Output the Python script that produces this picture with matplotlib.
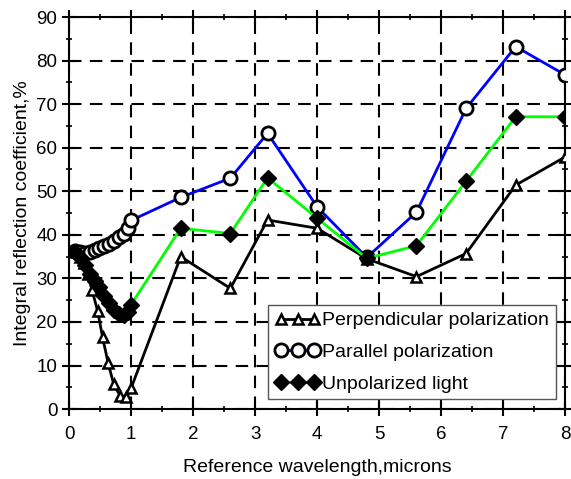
import matplotlib.pyplot as plt
from matplotlib.ticker import MultipleLocator

plt.rcParams['font.family'] = ['Liberation Sans', 'DejaVu Sans']

# perpendicular polarization
x_perp = [0.1, 0.17, 0.24, 0.3, 0.37, 0.46, 0.54, 0.63, 0.72, 0.82, 0.92, 1.0,
          1.8, 2.6, 3.2, 4.0, 4.8, 5.6, 6.4, 7.2, 8.0]
y_perp = [36, 35, 33.5, 31, 27.3, 22.5, 16.5, 10.5, 5.7, 3.1, 2.7, 4.8,
          35.0, 27.7, 43.4, 41.5, 34.5, 30.4, 35.7, 51.4, 57.9]

# parallel polarization
x_par = [0.1, 0.17, 0.25, 0.33, 0.41, 0.49, 0.57, 0.65, 0.73, 0.81, 0.88, 0.95, 1.0,
         1.8, 2.6, 3.2, 4.0, 4.8, 5.6, 6.4, 7.2, 8.0]
y_par = [36.2, 36.0, 35.9, 36.1, 36.5, 36.9, 37.4, 38.0, 38.6, 39.4, 40.3, 41.5, 43.3,
         48.6, 53.0, 63.3, 46.4, 34.8, 45.2, 69.0, 83.2, 76.7]

# unpolarized light
x_unp = [0.1, 0.17, 0.25, 0.33, 0.41, 0.49, 0.57, 0.65, 0.73, 0.81, 0.88, 0.95, 1.0,
         1.8, 2.6, 3.2, 4.0, 4.8, 5.6, 6.4, 7.2, 8.0]
y_unp = [36, 35, 33, 31, 29.5, 28, 26, 24.3, 22.7, 21.8, 21.5, 22.3, 24,
         41.5, 40.3, 53.1, 43.8, 34.6, 37.5, 52.3, 67.1, 67.1]

fig = plt.figure(figsize=(5.71, 4.79), dpi=100)
ax = fig.add_axes([0.121, 0.146, 0.869, 0.8185])

ax.plot(x_perp, y_perp, color='black', lw=2, marker='^', ms=7, mfc='white',
        mec='black', mew=1.8, label='Perpendicular polarization', zorder=3)
ax.plot(x_par, y_par, color='#0000ff', lw=2, marker='o', ms=9.5, mfc='white',
        mec='black', mew=2, label='Parallel polarization', zorder=4)
ax.plot(x_unp, y_unp, color='#00ff00', lw=2, marker='D', ms=8, mfc='black',
        mec='black', label='Unpolarized light', zorder=5)

ax.set_xlim(0, 8)
ax.set_ylim(0, 90)
ax.xaxis.set_major_locator(MultipleLocator(1))
ax.xaxis.set_minor_locator(MultipleLocator(0.5))
ax.yaxis.set_major_locator(MultipleLocator(10))
ax.yaxis.set_minor_locator(MultipleLocator(5))
ax.tick_params(which='major', direction='inout', length=10, width=1.5, labelsize=13.5,
               top=True, right=True)
ax.tick_params(axis='x', which='major', pad=7)
ax.tick_params(which='minor', direction='inout', length=5, width=1.2, top=True, right=True)
ax.grid(True, which='major', color='black', ls=(0, (6, 4)), lw=1.5)
ax.set_axisbelow(True)
for s in ax.spines.values():
    s.set_linewidth(1.5)

ax.set_xlabel('Reference wavelength,microns', fontsize=14, labelpad=12)
ax.set_ylabel('Integral reflection coefficient,%', fontsize=14, labelpad=4)

leg = ax.legend(loc='lower right', numpoints=3, fontsize=14, fancybox=False,
                framealpha=1, edgecolor='#555555', handlelength=2.3,
                handletextpad=0.1, borderaxespad=0.5, borderpad=0.35,
                labelspacing=0.72)
leg.get_frame().set_linewidth(1.0)

fig.savefig('out.png', dpi=100)
